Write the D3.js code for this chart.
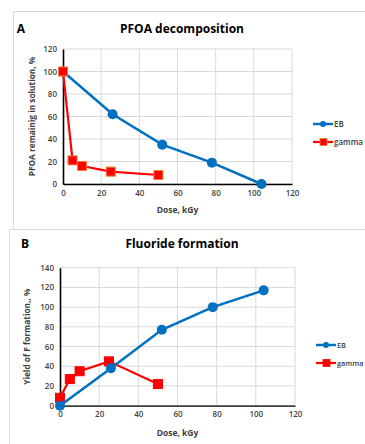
<!DOCTYPE html>
<html><head><meta charset="utf-8">
<script src="https://cdn.jsdelivr.net/npm/d3@7"></script>
<style>
html,body{margin:0;padding:0;background:#fff;}
svg{display:block;font-family:"Open Sans",sans-serif;}
</style></head>
<body>
<svg id="c" width="365" height="444"></svg>
<script>
const xTicks = [0,20,40,60,80,100,120];
const yTicksA = [0,20,40,60,80,100,120];
const yTicksB = [0,20,40,60,80,100,120,140];
const ebDoseA = [0,26,52,78,104];
const ebValA = [100,62,35,19,0];
const gDoseA = [0,5,10,25,50];
const gValA = [100,21,16,11,8];
const ebDoseB = [0,26,52,78,104];
const ebValB = [0,38,77,100,117];
const gDoseB = [0,5,10,25,50];
const gValB = [8,27,35,45,22];
const seriesNames = ["EB","gamma"];

const svg = d3.select("#c");
const blue = "#0070C0", red = "#FF0000";

svg.append("path").attr("d","M13.5,229 V11.5 H365").attr("fill","none").attr("stroke","#D9D9D9").attr("stroke-width",1);
svg.append("path").attr("d","M9.5,444 V229.5 H365").attr("fill","none").attr("stroke","#D9D9D9").attr("stroke-width",1);

function panel(cfg){
  const g = svg.append("g");
  const x = d3.scaleLinear().domain([0,120]).range([cfg.x0,cfg.x1]);
  const y = d3.scaleLinear().domain([0,cfg.ymax]).range([cfg.y0,cfg.y1]);
  g.append("g").selectAll("line").data(cfg.yTicks).join("line")
    .attr("x1",cfg.x0).attr("x2",cfg.x1).attr("y1",d=>y(d)).attr("y2",d=>y(d))
    .attr("stroke","#D9D9D9").attr("stroke-width",1);
  g.append("g").selectAll("line").data(xTicks.slice(1)).join("line")
    .attr("x1",d=>x(d)).attr("x2",d=>x(d)).attr("y1",cfg.y0).attr("y2",cfg.y1)
    .attr("stroke","#D9D9D9").attr("stroke-width",1);
  const ax = g.append("g").attr("transform",`translate(0,${cfg.y0})`)
    .call(d3.axisBottom(x).tickValues(xTicks).tickSize(0).tickPadding(6));
  ax.select(".domain").attr("stroke","#000").attr("stroke-width",1.3);
  const ay = g.append("g").attr("transform",`translate(${cfg.x0},0)`)
    .call(d3.axisLeft(y).tickValues(cfg.yTicks).tickSize(0).tickPadding(6));
  ay.select(".domain").attr("stroke","#000").attr("stroke-width",1.6);
  g.selectAll(".tick text").attr("font-family","Open Sans").attr("font-size",8).attr("font-weight",600).attr("fill","#404040");
  g.append("text").attr("x",cfg.tx).attr("y",cfg.ty).attr("text-anchor","middle")
    .attr("font-size",12).attr("font-weight",700).attr("fill","#000").text(cfg.title);
  g.append("text").attr("x",cfg.lx).attr("y",cfg.ty).attr("text-anchor","middle")
    .attr("font-size",12).attr("font-weight",700).attr("fill","#000").text(cfg.letter);
  g.append("text").attr("x",(cfg.x0+cfg.x1)/2).attr("y",cfg.xty).attr("text-anchor","middle")
    .attr("font-size",8.5).attr("font-weight",700).attr("fill","#404040").text("Dose, kGy");
  g.append("text").attr("transform",`translate(${cfg.ytx},${(cfg.y0+cfg.y1)/2}) rotate(-90)`)
    .attr("text-anchor","middle").attr("font-size",8.3).attr("font-weight",700).attr("fill","#404040").text(cfg.ytitle);
  const line = d3.line().x(d=>x(d[0])).y(d=>y(d[1]));
  const eb = cfg.ebD.map((d,i)=>[d,cfg.ebV[i]]);
  const ga = cfg.gD.map((d,i)=>[d,cfg.gV[i]]);
  const drawEB = ()=>{
    g.append("path").attr("d",line(eb)).attr("fill","none").attr("stroke",blue).attr("stroke-width",2.5);
    g.append("g").selectAll("circle").data(eb).join("circle")
      .attr("cx",d=>x(d[0])).attr("cy",d=>y(d[1])).attr("r",5).attr("fill",blue);
  };
  const drawG = ()=>{
    g.append("path").attr("d",line(ga)).attr("fill","none").attr("stroke",red).attr("stroke-width",2.2);
    g.append("g").selectAll("rect").data(ga).join("rect")
      .attr("x",d=>x(d[0])-4.5).attr("y",d=>y(d[1])-4.5).attr("width",9).attr("height",9)
      .attr("fill",red).attr("stroke",cfg.gStroke).attr("stroke-width",1);
  };
  if(cfg.ebFirst){drawEB();drawG();}else{drawG();drawEB();}
  const leg = g.append("g");
  seriesNames.forEach((n,i)=>{
    const ly = cfg.legY[i];
    leg.append("line").attr("x1",cfg.legX).attr("x2",cfg.legX+20).attr("y1",ly).attr("y2",ly)
      .attr("stroke",i===0?blue:red).attr("stroke-width",i===0?2.5:2.2);
    if(i===0) leg.append("circle").attr("cx",cfg.legX+10).attr("cy",ly).attr("r",3).attr("fill",blue);
    else leg.append("rect").attr("x",cfg.legX+7).attr("y",ly-3.5).attr("width",7).attr("height",7).attr("fill",red).attr("stroke",cfg.gStroke).attr("stroke-width",0.8);
    leg.append("text").attr("x",cfg.legX+21).attr("y",ly+3).attr("font-size",cfg.legFs).attr("font-weight",600).attr("fill","#404040").text(n);
  });
}

panel({x0:63,x1:292,y0:184,y1:49,ymax:120,yTicks:yTicksA,title:"PFOA decomposition",letter:"A",
  tx:182,lx:21,ty:33,xty:213,ytx:35,ytitle:"PFOA remainig in solution, %",
  ebD:ebDoseA,ebV:ebValA,gD:gDoseA,gV:gValA,gStroke:"#ED7D31",ebFirst:true,legX:313,legY:[124,142],legFs:8});
panel({x0:60,x1:295,y0:405.7,y1:267.7,ymax:140,yTicks:yTicksB,title:"Fluoride formation",letter:"B",
  tx:182,lx:25,ty:248,xty:436,ytx:30,ytitle:"Yield of F formation,, %",
  ebD:ebDoseB,ebV:ebValB,gD:gDoseB,gV:gValB,gStroke:red,ebFirst:false,legX:316,legY:[345,363],legFs:7.3});
</script>
</body></html>
